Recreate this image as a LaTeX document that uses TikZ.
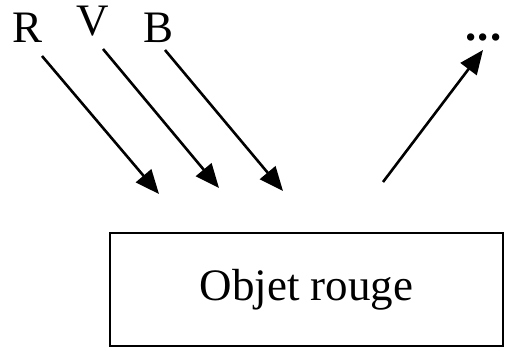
\documentclass[tikz,border=0pt]{standalone}
\usepackage{fontspec}
\setmainfont{Liberation Serif}
\usetikzlibrary{arrows.meta}
\begin{document}
\begin{tikzpicture}[x=1pt,y=-1pt,
  lbl/.style={anchor=base,inner sep=0pt,font=\fontsize{45}{48}\selectfont},
  ray/.style={line width=2.6pt,-{Triangle[length=24pt,width=20pt]}},
  objbox/.style={draw,line width=2.4pt,minimum width=393pt,minimum height=113pt,
                 font=\fontsize{45}{48}\selectfont}]
  \useasboundingbox (0,0) rectangle (505,348);
  % colour labels of the incident light
  \node[lbl] (r) at (28,42) {R};
  \node[lbl] (v) at (93,35) {V};
  \node[lbl] (b) at (159,42) {B};
  \node[lbl,anchor=base west] (dots) at (465,40) {\textbf{.\hspace{1.5pt}.\hspace{1.5pt}.}};
  % the object
  \node[objbox] (obj) at (306.5,289.5) {Objet rouge};
  % ray end points
  \coordinate (r0) at (42,56);   \coordinate (r1) at (159,194);
  \coordinate (v0) at (103,49);  \coordinate (v1) at (219,188);
  \coordinate (b0) at (165,50);  \coordinate (b1) at (283,191);
  \coordinate (s0) at (383,182); \coordinate (s1) at (483,50);
  % incident and diffused rays
  \draw[ray] (r0) -- (r1);
  \draw[ray] (v0) -- (v1);
  \draw[ray] (b0) -- (b1);
  \draw[ray] (s0) -- (s1);
\end{tikzpicture}
\end{document}
